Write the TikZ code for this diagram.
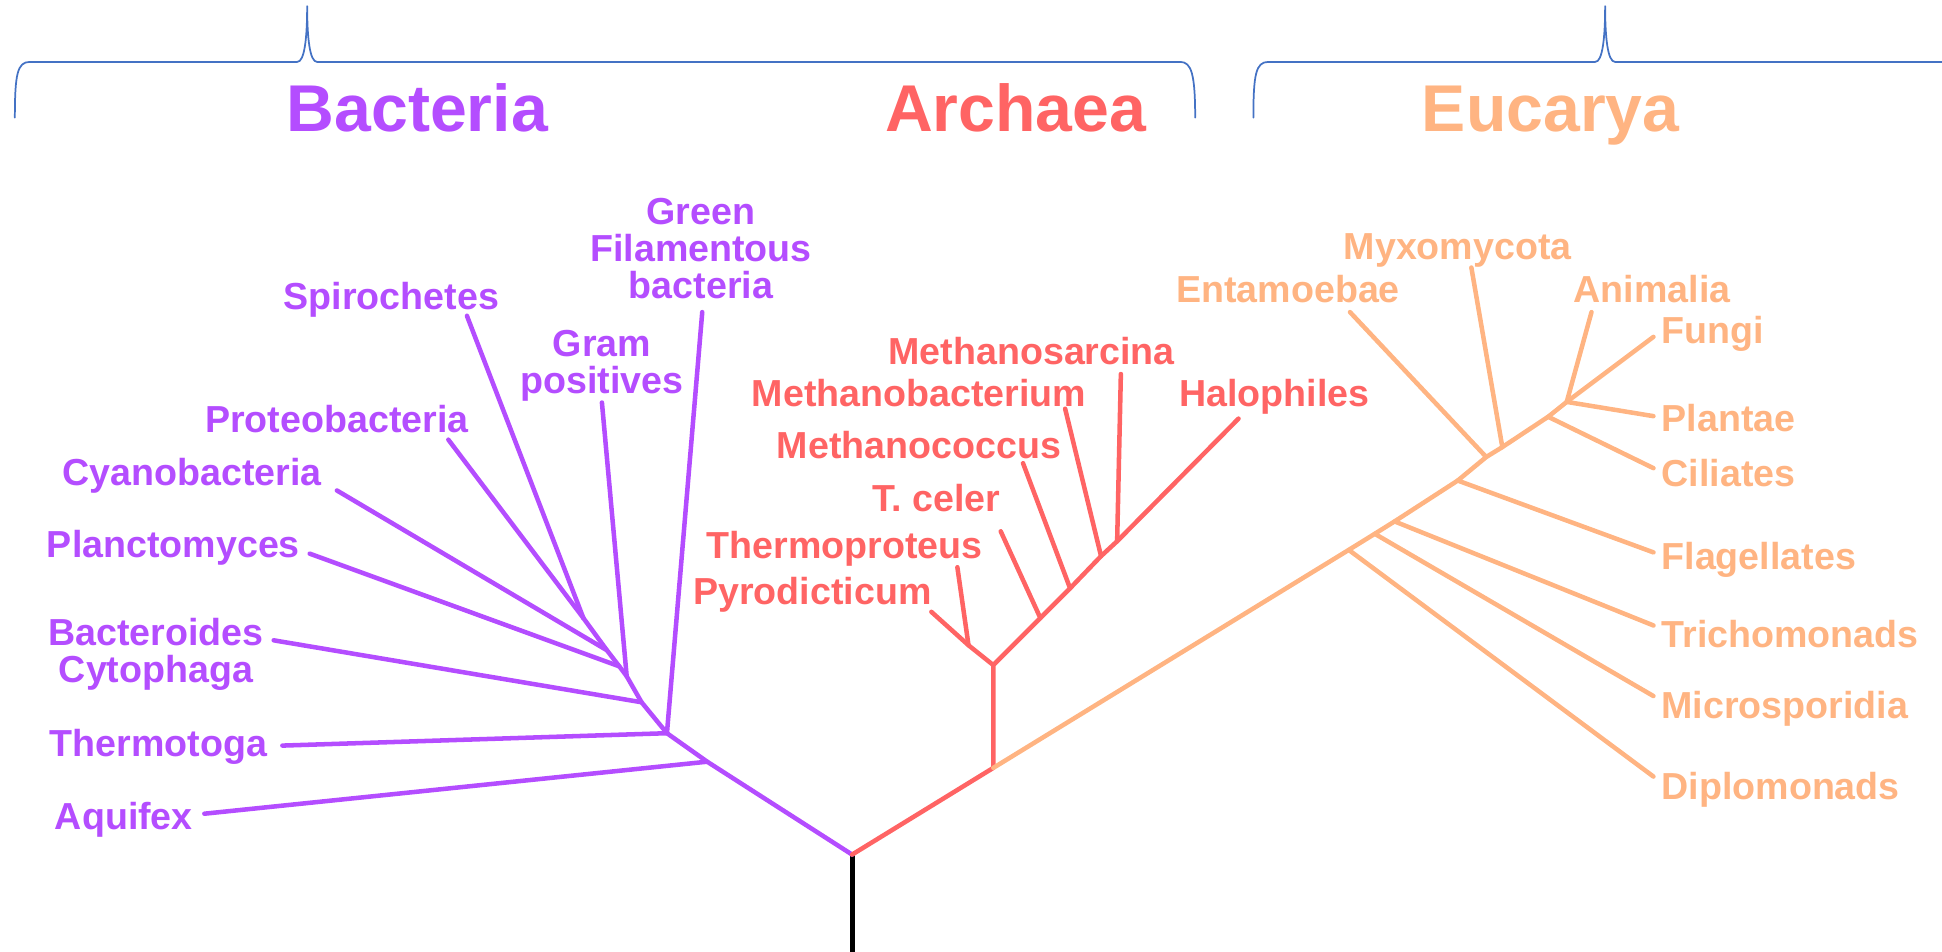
\documentclass[tikz,border=0pt]{standalone}
\usepackage{fontspec}
\setmainfont{Liberation Sans}
\usepackage{xcolor}
\usepackage{tikz}
\usetikzlibrary{positioning}

\definecolor{bactcol}{HTML}{B44DFF}
\definecolor{archcol}{HTML}{FF6464}
\definecolor{eukcol}{HTML}{FFB482}
\definecolor{bracecol}{HTML}{4472C4}

\begin{document}
\begin{tikzpicture}[x=0.125mm, y=-0.125mm, line cap=round, line join=round,
    lbl/.style={font=\fontsize{10.8}{10.5}\selectfont\bfseries, inner sep=0pt, text height=0.72em, text depth=0pt},
    mlbl/.style={font=\fontsize{10.8}{10.6}\selectfont\bfseries, inner sep=0pt, align=center},
    domtitle/.style={font=\fontsize{19}{20}\selectfont\bfseries, inner sep=0pt, text height=0.72em, text depth=0pt},
    bact/.style={draw=bactcol, line width=1.3pt},
    arch/.style={draw=archcol, line width=1.3pt},
    euk/.style={draw=eukcol, line width=1.3pt},
    bracket/.style={draw=bracecol, line width=0.5pt}]

    \useasboundingbox (0,0) rectangle (1568,768);

    % Braces and domain names
    \draw[bracket] (12,95) .. controls (12,60) and (14,50) .. (24,50) -- (240,50)
        .. controls (246,50) and (248,30) .. (248,5) .. controls (248,30) and (250,50) .. (256,50)
        -- (953,50) .. controls (962,50) and (965,60) .. (965,95);
    \draw[bracket] (1012,95) .. controls (1012,60) and (1014,50) .. (1024,50) -- (1288,50)
        .. controls (1294,50) and (1296,30) .. (1296,5) .. controls (1296,30) and (1298,50) .. (1304,50)
        -- (1570,50);
    \node (bacteria) [domtitle, text=bactcol] at (337,96) {Bacteria};
    \node (archaea) [domtitle, text=archcol] at (820,96) {Archaea};
    \node (eucarya) [domtitle, text=eukcol] at (1252,96) {Eucarya};

    % Junctions
    \coordinate (root) at (688,690);
    \coordinate (stem) at (688,770);
    \coordinate (b0) at (571,615);
    \coordinate (b1) at (538.5,592);
    \coordinate (b2) at (518,567);
    \coordinate (b3) at (506,546);
    \coordinate (b4) at (500,538);
    \coordinate (b5) at (490,525);
    \coordinate (b6) at (471,499);
    \coordinate (a0) at (802,620);
    \coordinate (a1) at (802,537);
    \coordinate (a2) at (782,521);
    \coordinate (a3) at (840,499);
    \coordinate (a4) at (864,475);
    \coordinate (a5) at (889,449);
    \coordinate (a6) at (902,437);
    \coordinate (e1) at (1089,444);
    \coordinate (e2) at (1110,431);
    \coordinate (e3) at (1126,421);
    \coordinate (e4) at (1177,388);
    \coordinate (e5) at (1200,369);
    \coordinate (e6) at (1213,361);
    \coordinate (e7) at (1250,336.5);
    \coordinate (e8) at (1265,324.5);

    % Branch ends
    \coordinate (aquifex-t) at (165,657);
    \coordinate (thermotoga-t) at (228,602);
    \coordinate (green-t) at (567,252);
    \coordinate (bacteroides-t) at (221,517);
    \coordinate (gram-t) at (486,325);
    \coordinate (plancto-t) at (250,447);
    \coordinate (cyano-t) at (272,396);
    \coordinate (proteo-t) at (362,355);
    \coordinate (spiro-t) at (377,255);
    \coordinate (pyro-t) at (752,494);
    \coordinate (thermop-t) at (773,458);
    \coordinate (tceler-t) at (808,429);
    \coordinate (methcoc-t) at (826,374);
    \coordinate (methbac-t) at (860,330);
    \coordinate (methsar-t) at (905,302);
    \coordinate (halo-t) at (1000,338);
    \coordinate (diplo-t) at (1335,627);
    \coordinate (micro-t) at (1335,562);
    \coordinate (tricho-t) at (1335,505);
    \coordinate (flag-t) at (1335,446);
    \coordinate (entam-t) at (1090,252);
    \coordinate (myxo-t) at (1188,216);
    \coordinate (cili-t) at (1335,378);
    \coordinate (plant-t) at (1335,336);
    \coordinate (fungi-t) at (1335,272);
    \coordinate (anim-t) at (1285,252);

    % Labels
    \node (aquifex) [lbl, text=bactcol] at (100,660) {Aquifex};
    \node (thermotoga) [lbl, text=bactcol] at (128,601) {Thermotoga};
    \node (bacteroides) [mlbl, text=bactcol] at (126,528) {Bacteroides\\Cytophaga};
    \node (plancto) [lbl, text=bactcol] at (140,440) {Planctomyces};
    \node (cyano) [lbl, text=bactcol] at (155,382) {Cyanobacteria};
    \node (proteo) [lbl, text=bactcol] at (272,339) {Proteobacteria};
    \node (spiro) [lbl, text=bactcol] at (316,240) {Spirochetes};
    \node (gram) [mlbl, text=bactcol] at (486,295) {Gram\\positives};
    \node (green) [mlbl, text=bactcol] at (566,201) {Green\\Filamentous\\bacteria};

    \node (pyro) [lbl, text=archcol] at (656,478) {Pyrodicticum};
    \node (thermop) [lbl, text=archcol] at (682,441) {Thermoproteus};
    \node (tceler) [lbl, text=archcol] at (756,403) {T. celer};
    \node (methcoc) [lbl, text=archcol] at (742,360) {Methanococcus};
    \node (methbac) [lbl, text=archcol] at (742,318) {Methanobacterium};
    \node (methsar) [lbl, text=archcol] at (833,284) {Methanosarcina};
    \node (halo) [lbl, text=archcol] at (1029,318) {Halophiles};

    \node (entam) [lbl, text=eukcol] at (1040,234) {Entamoebae};
    \node (myxo) [lbl, text=eukcol] at (1177,199) {Myxomycota};
    \node (anim) [lbl, text=eukcol] at (1334,234) {Animalia};
    \node (fungi) [lbl, text=eukcol, anchor=west] at (1341,267) {Fungi};
    \node (plant) [lbl, text=eukcol, anchor=west] at (1341,338) {Plantae};
    \node (cili) [lbl, text=eukcol, anchor=west] at (1341,383) {Ciliates};
    \node (flag) [lbl, text=eukcol, anchor=west] at (1341,450) {Flagellates};
    \node (tricho) [lbl, text=eukcol, anchor=west] at (1341,513) {Trichomonads};
    \node (micro) [lbl, text=eukcol, anchor=west] at (1341,570) {Microsporidia};
    \node (diplo) [lbl, text=eukcol, anchor=west] at (1341,635) {Diplomonads};

    % Stem
    \draw[line width=1.4pt, line cap=butt] (root) -- (stem);

    % Bacteria
    \draw[bact] (root) -- (b0) -- (b1) -- (b2) -- (b3) -- (b4) -- (b5) -- (b6);
    \draw[bact] (b0) -- (aquifex-t);
    \draw[bact] (b1) -- (thermotoga-t);
    \draw[bact] (b1) -- (green-t);
    \draw[bact] (b2) -- (bacteroides-t);
    \draw[bact] (b3) -- (gram-t);
    \draw[bact] (b4) -- (plancto-t);
    \draw[bact] (b5) -- (cyano-t);
    \draw[bact] (b6) -- (proteo-t);
    \draw[bact] (b6) -- (spiro-t);

    % Archaea
    \draw[arch] (root) -- (a0) -- (a1) -- (a3) -- (a4) -- (a5) -- (a6) -- (halo-t);
    \draw[arch] (a1) -- (a2) -- (pyro-t);
    \draw[arch] (a2) -- (thermop-t);
    \draw[arch] (a3) -- (tceler-t);
    \draw[arch] (a4) -- (methcoc-t);
    \draw[arch] (a5) -- (methbac-t);
    \draw[arch] (a6) -- (methsar-t);

    % Eucarya
    \draw[euk] (a0) -- (e1) -- (e2) -- (e3) -- (e4) -- (e5) -- (e6) -- (e7) -- (e8);
    \draw[euk] (e1) -- (diplo-t);
    \draw[euk] (e2) -- (micro-t);
    \draw[euk] (e3) -- (tricho-t);
    \draw[euk] (e4) -- (flag-t);
    \draw[euk] (e5) -- (entam-t);
    \draw[euk] (e6) -- (myxo-t);
    \draw[euk] (e7) -- (cili-t);
    \draw[euk] (e8) -- (plant-t);
    \draw[euk] (e8) -- (fungi-t);
    \draw[euk] (e8) -- (anim-t);

\end{tikzpicture}
\end{document}
